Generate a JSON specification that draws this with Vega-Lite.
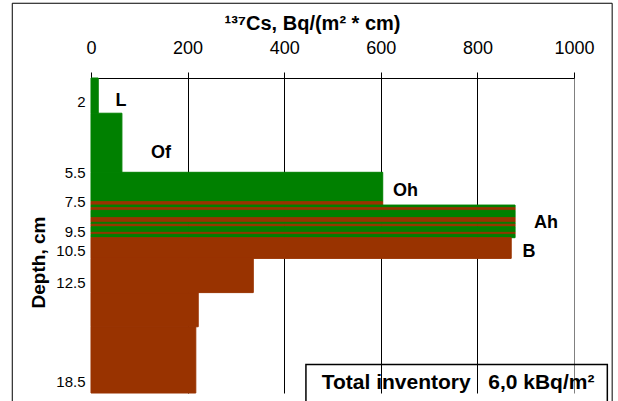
{
  "$schema": "https://vega.github.io/schema/vega-lite/v6.json",
  "width": 483,
  "height": 315,
  "autosize": {"type": "none"},
  "padding": {"left": 91, "top": 78, "right": 44, "bottom": 8},
  "background": "white",
  "config": {"view": {"stroke": null}, "font": "Liberation Sans", "text": {"font": "Liberation Sans"}},
  "datasets": {
    "profile": [
      {"horizon": "L", "group": "organic", "top": 0, "bottom": 2.6, "value": 15},
      {"horizon": "Of", "group": "organic", "top": 2.6, "bottom": 5.5, "value": 64},
      {"horizon": "Oh", "group": "organic", "top": 5.5, "bottom": 7.5, "value": 604},
      {"horizon": "Oh", "group": "mineral", "top": 7.5, "bottom": 7.73, "value": 604},
      {"horizon": "Ah", "group": "organic", "top": 7.73, "bottom": 7.91, "value": 878},
      {"horizon": "Ah", "group": "mineral", "top": 7.91, "bottom": 8.09, "value": 878},
      {"horizon": "Ah", "group": "organic", "top": 8.09, "bottom": 8.59, "value": 878},
      {"horizon": "Ah", "group": "mineral", "top": 8.59, "bottom": 8.91, "value": 878},
      {"horizon": "Ah", "group": "organic", "top": 8.91, "bottom": 9.04, "value": 878},
      {"horizon": "Ah", "group": "mineral", "top": 9.04, "bottom": 9.21, "value": 878},
      {"horizon": "Ah", "group": "organic", "top": 9.21, "bottom": 9.57, "value": 878},
      {"horizon": "Ah", "group": "mineral", "top": 9.57, "bottom": 9.67, "value": 878},
      {"horizon": "Ah", "group": "organic", "top": 9.67, "bottom": 9.84, "value": 878},
      {"horizon": "B", "group": "mineral", "top": 9.84, "bottom": 10.98, "value": 870},
      {"horizon": "B", "group": "mineral", "top": 10.98, "bottom": 13.1, "value": 336},
      {"horizon": "B", "group": "mineral", "top": 13.1, "bottom": 15.17, "value": 222},
      {"horizon": "B", "group": "mineral", "top": 15.17, "bottom": 19.2, "value": 217}
    ],
    "horizons": [
      {"horizon": "L", "value": 62, "depth": 2.0},
      {"horizon": "Of", "value": 145, "depth": 4.55},
      {"horizon": "Oh", "value": 651, "depth": 6.77},
      {"horizon": "Ah", "value": 942, "depth": 8.92},
      {"horizon": "B", "value": 907, "depth": 10.56}
    ],
    "note": [
      {"note": "Total inventory\u00a0\u00a0 6,0 kBq/m²"}
    ]
  },
  "layer": [
    {
      "data": {"values": [{"frame": "chart"}]},
      "mark": {"type": "rect", "fill": null, "stroke": "black", "strokeWidth": 1},
      "encoding": {
        "x": {"datum": -163, "type": "quantitative", "scale": {"domain": [0, 1000], "nice": false, "zero": false}},
        "x2": {"datum": 1079},
        "y": {"datum": -6.5, "type": "quantitative", "scale": {"domain": [0, 2, 5.5, 7.5, 9.5, 10.5, 12.5, 18.5, 19.2], "range": [0, 23, 94.3, 123.7, 153, 172.7, 204.7, 303.7, 315], "nice": false, "zero": false}},
        "y2": {"datum": 20}
      }
    },
    {
      "data": {"values": [{"frame": "inventory"}]},
      "mark": {"type": "rect", "fill": null, "stroke": "black", "strokeWidth": 1.5},
      "encoding": {
        "x": {"datum": 445, "type": "quantitative", "scale": {"domain": [0, 1000], "nice": false, "zero": false}},
        "x2": {"datum": 1069},
        "y": {"datum": 17.45, "type": "quantitative", "scale": {"domain": [0, 2, 5.5, 7.5, 9.5, 10.5, 12.5, 18.5, 19.2], "range": [0, 23, 94.3, 123.7, 153, 172.7, 204.7, 303.7, 315], "nice": false, "zero": false}},
        "y2": {"datum": 20}
      }
    },
    {
      "data": {"name": "note"},
      "mark": {"type": "text", "fontSize": 21, "fontWeight": "bold", "color": "black", "align": "center", "baseline": "alphabetic"},
      "encoding": {
        "x": {"datum": 760, "type": "quantitative", "scale": {"domain": [0, 1000], "nice": false, "zero": false}},
        "y": {"datum": 18.94, "type": "quantitative", "scale": {"domain": [0, 2, 5.5, 7.5, 9.5, 10.5, 12.5, 18.5, 19.2], "range": [0, 23, 94.3, 123.7, 153, 172.7, 204.7, 303.7, 315], "nice": false, "zero": false}},
        "text": {"field": "note"}
      }
    },
    {
      "data": {"name": "profile"},
      "mark": {"type": "rect", "strokeWidth": 1},
      "encoding": {
        "x": {
          "field": "value", "type": "quantitative",
          "scale": {"domain": [0, 1000], "nice": false, "zero": false},
          "axis": {
            "orient": "top", "values": [0, 200, 400, 600, 800, 1000], "format": "d",
            "title": "¹³⁷Cs, Bq/(m² * cm)", "titleFontSize": 20, "titleFontWeight": "bold", "titleColor": "black", "titlePadding": 6, "titleX": 221,
            "labelFontSize": 18, "labelColor": "black", "labelPadding": 15, "labelFlush": false, "labelOverlap": false,
            "tickColor": "black", "tickSize": 6, "domainColor": "black", "domainWidth": 1,
            "grid": true,
            "gridColor": {"condition": {"test": "datum.value === 1000", "value": "#808080"}, "value": "black"},
            "gridOpacity": {"condition": {"test": "datum.value === 0", "value": 0}, "value": 1},
            "gridWidth": 1
          }
        },
        "x2": {"datum": 0},
        "y": {
          "field": "top", "type": "quantitative",
          "scale": {"domain": [0, 2, 5.5, 7.5, 9.5, 10.5, 12.5, 18.5, 19.2], "range": [0, 23, 94.3, 123.7, 153, 172.7, 204.7, 303.7, 315], "nice": false, "zero": false},
          "axis": {
            "values": [2, 5.5, 7.5, 9.5, 10.5, 12.5, 18.5], "format": ".1~f",
            "title": "Depth, cm", "titleFontSize": 19, "titleFontWeight": "bold", "titleColor": "black", "titlePadding": 7, "titleY": 184,
            "labelFontSize": 15, "labelColor": "black", "labelPadding": 6, "labelOverlap": false, "labelFlush": false,
            "ticks": false, "tickSize": 0, "domain": false, "grid": false
          }
        },
        "y2": {"field": "bottom"},
        "color": {"field": "group", "type": "nominal", "scale": {"domain": ["organic", "mineral"], "range": ["#008000", "#993300"]}, "legend": null},
        "stroke": {"field": "group", "type": "nominal", "scale": {"domain": ["organic", "mineral"], "range": ["#008000", "#993300"]}, "legend": null}
      }
    },
    {
      "data": {"name": "horizons"},
      "mark": {"type": "text", "fontSize": 18, "fontWeight": "bold", "color": "black", "align": "center", "baseline": "middle"},
      "encoding": {
        "x": {"field": "value", "type": "quantitative", "scale": {"domain": [0, 1000], "nice": false, "zero": false}},
        "y": {"field": "depth", "type": "quantitative", "scale": {"domain": [0, 2, 5.5, 7.5, 9.5, 10.5, 12.5, 18.5, 19.2], "range": [0, 23, 94.3, 123.7, 153, 172.7, 204.7, 303.7, 315], "nice": false, "zero": false}},
        "text": {"field": "horizon"}
      }
    }
  ]
}
